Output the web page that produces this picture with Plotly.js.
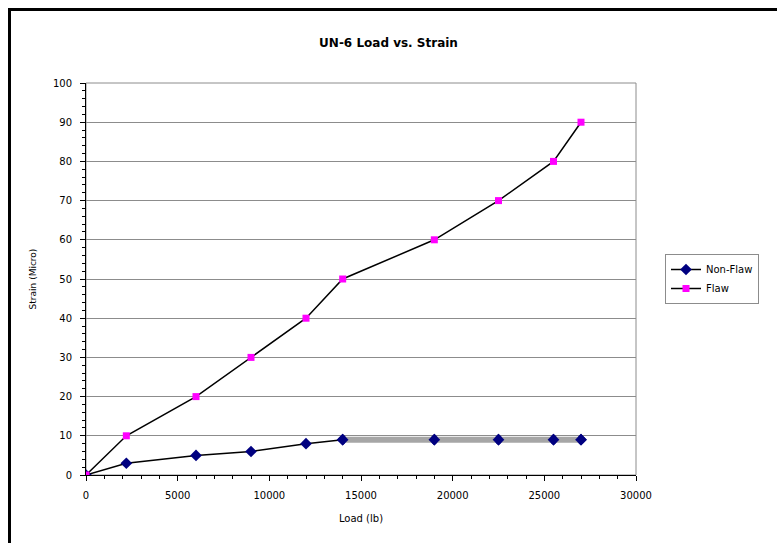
<!DOCTYPE html>
<html>
<head>
<meta charset="utf-8">
<script src="https://cdn.plot.ly/plotly-3.0.1.min.js"></script>
<style>
  html, body { margin: 0; padding: 0; background: #fff; }
  #chart { width: 777px; height: 543px; }
</style>
</head>
<body>
<div id="chart"></div>
<script>
// Load (lb) applied at each step
const loadLb = [0, 2200, 6000, 9000, 12000, 14000, 19000, 22500, 25500, 27000];
// Strain readings (micro) for each specimen
const nonFlawStrain = [0, 3, 5, 6, 8, 9, 9, 9, 9, 9];
const flawStrain = [0, 10, 20, 30, 40, 50, 60, 70, 80, 90];
// Point index where the non-flaw strain levels off
const plateauStart = 5;

const xTicks = [0, 5000, 10000, 15000, 20000, 25000, 30000];
const yTicks = [0, 10, 20, 30, 40, 50, 60, 70, 80, 90, 100];

const FONT = 'DejaVu Sans, Arial, sans-serif';

const traces = [
  {
    x: loadLb, y: nonFlawStrain, name: 'Non-Flaw', type: 'scatter', mode: 'lines+markers',
    line: { color: '#000000', width: 1.5 },
    marker: { symbol: 'diamond', size: 9, color: '#000080' }
  },
  {
    // flat stretch of the non-flaw curve, drawn as a thick grey band
    x: loadLb.slice(plateauStart), y: nonFlawStrain.slice(plateauStart),
    type: 'scatter', mode: 'lines', showlegend: false, hoverinfo: 'skip',
    line: { color: '#a6a6a6', width: 6 }
  },
  {
    x: loadLb.slice(plateauStart), y: nonFlawStrain.slice(plateauStart),
    type: 'scatter', mode: 'markers', showlegend: false, hoverinfo: 'skip',
    marker: { symbol: 'diamond', size: 9, color: '#000080' }
  },
  {
    x: loadLb, y: flawStrain, name: 'Flaw', type: 'scatter', mode: 'lines+markers',
    line: { color: '#000000', width: 1.5 },
    marker: { symbol: 'square', size: 7, color: '#ff00ff' }
  }
];

const W = 777, H = 543;
const mL = 86, mR = 141, mT = 83, mB = 68;
const pw = W - mL - mR, ph = H - mT - mB;
const px = v => (v - mL) / pw;
const py = v => (H - mB - v) / ph;

const tickFont = { family: FONT, size: 10, color: '#000' };

const layout = {
  width: W, height: H,
  margin: { l: mL, r: mR, t: mT, b: mB },
  paper_bgcolor: '#ffffff', plot_bgcolor: '#ffffff',
  title: {
    text: '<b>UN-6 Load vs. Strain</b>',
    font: { family: FONT, size: 12, color: '#000' },
    x: px(361), xanchor: 'center', y: 1 - 43 / H, yanchor: 'middle'
  },
  xaxis: {
    range: [0, 30000], tickvals: xTicks, ticktext: xTicks.map(String),
    tickfont: tickFont, showgrid: false, zeroline: false,
    showline: true, linecolor: '#000', linewidth: 1,
    ticks: 'outside', ticklen: 5, tickcolor: '#000', ticklabelstandoff: 6,
    minor: { dtick: 1000, ticks: 'outside', ticklen: 3, tickcolor: '#000' },
    title: { text: 'Load (lb)', font: { family: FONT, size: 10, color: '#000' }, standoff: 14 }
  },
  yaxis: {
    range: [0, 100], tickvals: yTicks, ticktext: yTicks.map(String),
    tickfont: tickFont, showgrid: true, gridcolor: '#8c8c8c', gridwidth: 1,
    zeroline: false, showline: true, linecolor: '#000', linewidth: 1,
    ticks: 'outside', ticklen: 5, tickcolor: '#000', ticklabelstandoff: 6,
    minor: { dtick: 2, ticks: 'outside', ticklen: 3, tickcolor: '#000', showgrid: false },
    title: { text: 'Strain (Micro)', font: { family: FONT, size: 9, color: '#000' }, standoff: 14 }
  },
  legend: {
    x: px(665), y: py(254), xanchor: 'left', yanchor: 'top',
    bgcolor: '#ffffff', bordercolor: '#8c8c8c', borderwidth: 1,
    font: { family: FONT, size: 10, color: '#000' },
    tracegroupgap: 2, itemwidth: 30
  },
  shapes: [
    // plot area border
    { type: 'rect', xref: 'paper', yref: 'paper', x0: 0, x1: 1, y0: 0, y1: 1,
      line: { color: '#8c8c8c', width: 1 }, layer: 'below' },
    // outer chart frame
    { type: 'rect', xref: 'paper', yref: 'paper',
      x0: px(9.5), x1: px(800), y0: py(560), y1: py(9.5),
      line: { color: '#000', width: 3 } }
  ],
  showlegend: true
};

Plotly.newPlot('chart', traces, layout, { displayModeBar: false, staticPlot: true });
</script>
</body>
</html>
